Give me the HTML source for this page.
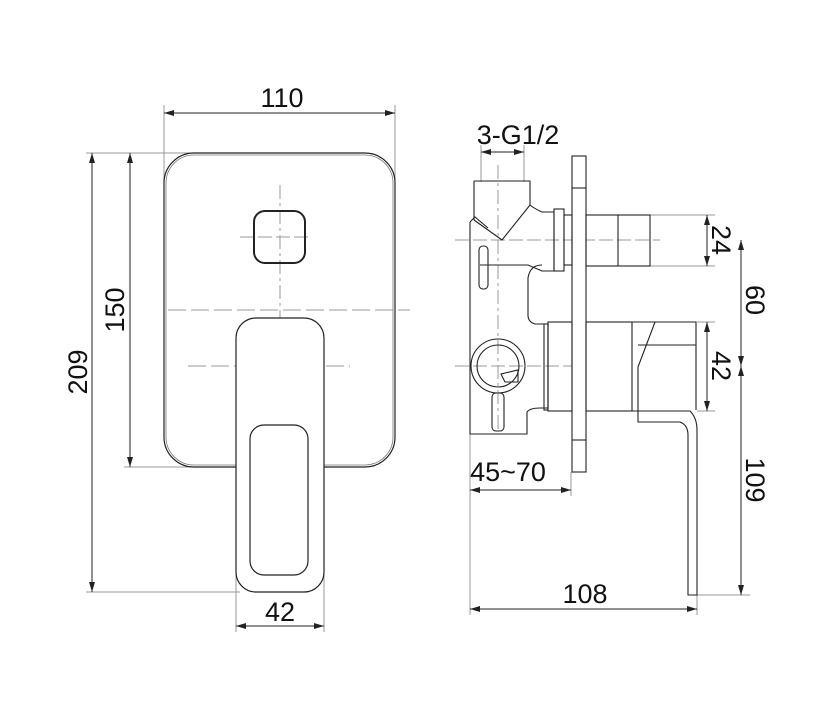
<!DOCTYPE html>
<html><head><meta charset="utf-8"><style>
html,body{margin:0;padding:0;background:#fff;}
svg{display:block}
text{font-family:"Liberation Sans",sans-serif;font-size:27px;fill:#111}
</style></head><body>
<svg width="817" height="727" viewBox="0 0 817 727" xmlns="http://www.w3.org/2000/svg">
<defs>
<marker id="a" markerWidth="10" markerHeight="6" refX="10" refY="3" orient="auto-start-reverse" markerUnits="userSpaceOnUse"><path d="M0,0 L10,3 L0,6 z" fill="#222"/></marker>
</defs>
<g stroke="#999" stroke-width="1" fill="none">
<line x1="164" y1="105" x2="164" y2="180"/><line x1="395" y1="105" x2="395" y2="180"/>
<line x1="86" y1="153" x2="190" y2="153"/><line x1="124" y1="467" x2="236" y2="467"/>
<line x1="86" y1="592" x2="240" y2="592"/>
<line x1="236" y1="560" x2="236" y2="632"/><line x1="324" y1="560" x2="324" y2="632"/>
<line x1="280" y1="185" x2="280" y2="485" stroke-dasharray="14,4,3,4"/>
<line x1="240" y1="237" x2="312" y2="237" stroke-dasharray="14,4"/>
<line x1="168" y1="310" x2="410" y2="310" stroke-dasharray="18,5"/>
<line x1="188" y1="366" x2="350" y2="366" stroke-dasharray="18,5"/>
<line x1="481" y1="145" x2="481" y2="182"/><line x1="524" y1="145" x2="524" y2="182"/>
<line x1="650" y1="215" x2="715" y2="215"/><line x1="650" y1="266" x2="715" y2="266"/>
<line x1="697" y1="322" x2="715" y2="322"/><line x1="697" y1="411" x2="715" y2="411"/>
<line x1="697" y1="595" x2="750" y2="595"/>
<line x1="470" y1="434" x2="470" y2="615"/><line x1="571" y1="472" x2="571" y2="496"/>
<line x1="697" y1="595" x2="697" y2="615"/>
<line x1="455" y1="240" x2="660" y2="240" stroke-dasharray="14,4"/>
<line x1="455" y1="366" x2="585" y2="366" stroke-dasharray="14,4"/>
<line x1="498" y1="165" x2="498" y2="430" stroke-dasharray="14,4,3,4"/>
</g>
<g stroke="#222" stroke-width="1" fill="none">
<line x1="164" y1="113" x2="395" y2="113" marker-start="url(#a)" marker-end="url(#a)"/>
<line x1="92" y1="153" x2="92" y2="592" marker-start="url(#a)" marker-end="url(#a)"/>
<line x1="130" y1="153" x2="130" y2="467" marker-start="url(#a)" marker-end="url(#a)"/>
<line x1="236" y1="626" x2="324" y2="626" marker-start="url(#a)" marker-end="url(#a)"/>
<line x1="481" y1="152" x2="524" y2="152" marker-start="url(#a)" marker-end="url(#a)"/>
<line x1="707" y1="215" x2="707" y2="266" marker-start="url(#a)" marker-end="url(#a)"/>
<line x1="707" y1="322" x2="707" y2="411" marker-start="url(#a)" marker-end="url(#a)"/>
<line x1="741" y1="240" x2="741" y2="366" marker-start="url(#a)" marker-end="url(#a)"/>
<line x1="741" y1="366" x2="741" y2="595" marker-start="url(#a)" marker-end="url(#a)"/>
<line x1="470" y1="490" x2="571" y2="490" marker-start="url(#a)" marker-end="url(#a)"/>
<line x1="470" y1="609" x2="697" y2="609" marker-start="url(#a)" marker-end="url(#a)"/>
</g>
<g stroke="#222" stroke-width="1.2" fill="none">
<rect x="164" y="153" width="231" height="314" rx="30"/>
<rect x="166" y="155" width="227" height="310" rx="28" stroke="#777" stroke-width="0.8"/>
<rect x="254" y="211" width="51" height="52" rx="11" stroke-width="2"/>
<rect x="236" y="318" width="88" height="274" rx="20" fill="#fff"/>
<rect x="250" y="425" width="58" height="150" rx="14"/>
</g>
<g stroke="#222" stroke-width="1.1" fill="none">
<rect x="572" y="156" width="14" height="316" fill="#fff"/>
<line x1="572" y1="188" x2="586" y2="188"/><line x1="572" y1="440" x2="586" y2="440"/>
<rect x="586" y="215" width="64" height="51"/><line x1="618" y1="215" x2="618" y2="266"/>
<rect x="554" y="209" width="10" height="62"/><rect x="564" y="215" width="8" height="50"/>
<path d="M474,181 H530 V205 Q535,209 542,212 H554 V271 H542 L528,265 H480"/>
<path d="M474,181 V220 M530,205 L502,240 L474,220"/>
<path d="M470,222 L475,217 L488,228 M470,222 V434 H527 V412 Q530,408 540,408 H548 V324 H535 Q528,322 528,315 V278 Q530,265 542,265"/>
<rect x="479" y="246" width="9" height="43" rx="4"/>
<rect x="548" y="322" width="24" height="89"/><rect x="544" y="324" width="4" height="86"/>
<rect x="586" y="322" width="46" height="89"/>
<path d="M632,322 H696 V410 M632,411 H690 Q697,418 697,430 V595 H688 V435 Q688,425 680,422 H638 V367 L655,322"/>
<path d="M638,345 H696"/>
<circle cx="498" cy="366" r="27"/><circle cx="498" cy="366" r="21"/>
<rect x="492" y="393" width="12" height="38" rx="4"/>
<path d="M501,374 L505,382 L518,382 L518,370 Z"/>
</g>
<text x="282" y="107" text-anchor="middle">110</text>
<text x="280" y="621" text-anchor="middle">42</text>
<text x="518" y="144" text-anchor="middle">3-G1/2</text>
<text x="508" y="481" text-anchor="middle">45~70</text>
<text x="585" y="603" text-anchor="middle">108</text>
<text transform="translate(87,372) rotate(-90)" text-anchor="middle">209</text>
<text transform="translate(124,310) rotate(-90)" text-anchor="middle">150</text>
<text transform="translate(712,240) rotate(90)" text-anchor="middle">24</text>
<text transform="translate(712,366) rotate(90)" text-anchor="middle">42</text>
<text transform="translate(746,300) rotate(90)" text-anchor="middle">60</text>
<text transform="translate(746,480) rotate(90)" text-anchor="middle">109</text>
</svg>
</body></html>
